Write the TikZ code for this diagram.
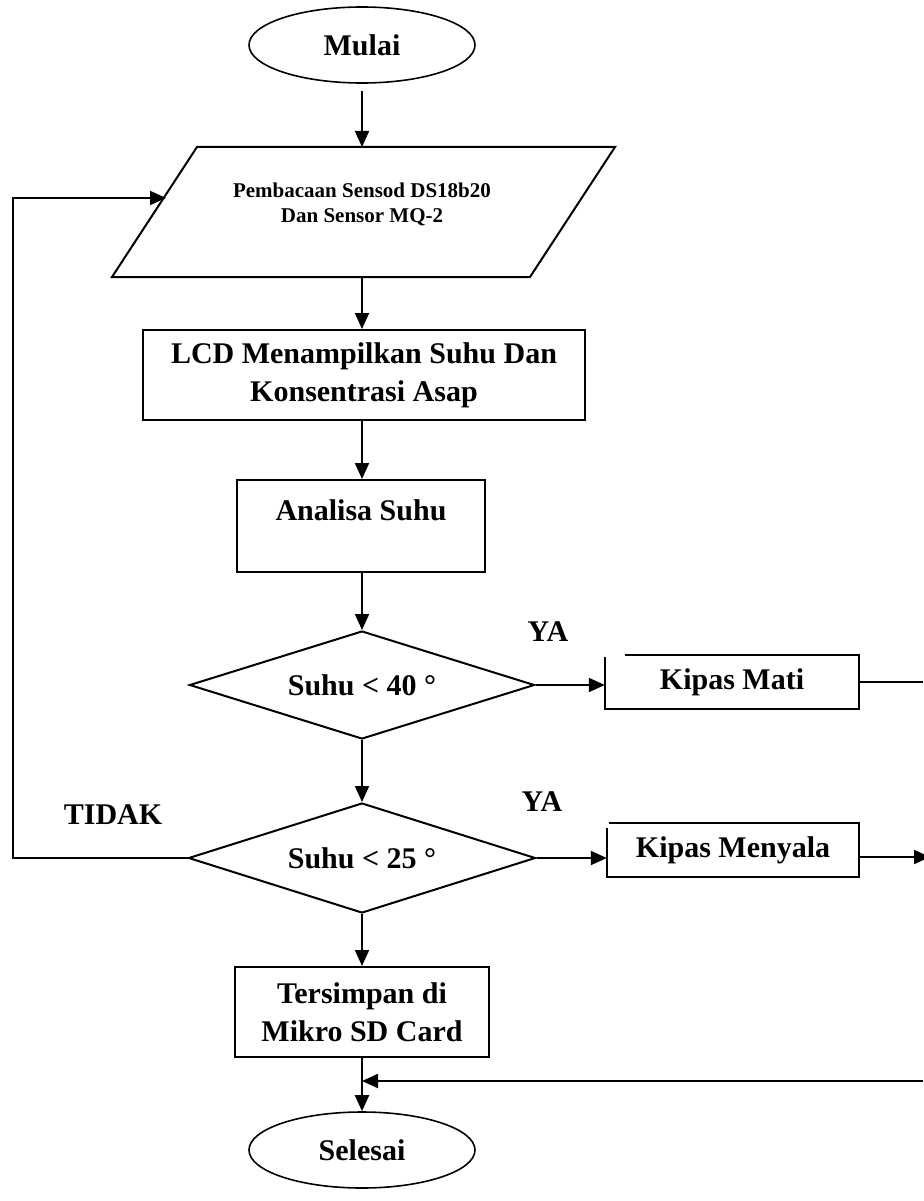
\documentclass[tikz,border=0pt]{standalone}
\usepackage{fontspec}
\setmainfont{Liberation Serif}
\usetikzlibrary{shapes.geometric,arrows.meta,calc}
\begin{document}
\begin{tikzpicture}[x=1pt,y=-1pt,
  every node/.style={font=\bfseries\fontsize{30}{38}\selectfont, inner sep=0pt, align=center},
  ln/.style={line width=2pt},
  arr/.style={ln,-{Triangle[length=16pt,width=14pt]}},
  box/.style={draw, line width=2pt, rectangle},
  term/.style={draw, ellipse, line width=1.6pt, minimum width=226pt, minimum height=76pt},
  dec/.style={draw, diamond, aspect=3.2, line width=2pt},
]
\useasboundingbox (0,0) rectangle (923,1201);

% terminals
\node[term] (start) at (362,45) {Mulai};
\node[term] (end) at (362,1150) {Selesai};

% input parallelogram
\coordinate (ptl) at (197,147);
\coordinate (ptr) at (615,147);
\coordinate (pbr) at (530,277);
\coordinate (pbl) at (112,277);
\draw[ln, line join=miter] (ptl) -- (ptr) -- (pbr) -- (pbl) -- cycle;
\node[font=\bfseries\fontsize{21}{25}\selectfont] (pin) at (362,204) {Pembacaan Sensod DS18b20\\Dan Sensor MQ-2};
\coordinate (ptop) at (362,147);
\coordinate (pbot) at (362,277);
\coordinate (pleft) at (166,198);

% process boxes
\node[box, minimum width=442pt, minimum height=90pt] (lcd) at (364,375) {LCD Menampilkan Suhu Dan\\Konsentrasi Asap};
\node[box, minimum width=248pt, minimum height=92pt] (ana) at (361,526) {};
\node (anatxt) at (361,510) {Analisa Suhu};

% decisions
\node[dec, minimum width=345pt, minimum height=108pt] (d1) at (362,685) {Suhu < 40 °};
\node[dec, minimum width=347pt, minimum height=110pt] (d2) at (362,858) {Suhu < 25 °};

% kipas boxes (open top-left corner)
\node[minimum width=254pt, minimum height=54pt] (km) at (732,682) {Kipas Mati};
\draw[ln] ($(km.north west)+(20,0)$) -- (km.north east) -- (km.south east) -- (km.south west) -- ($(km.north west)+(0,2)$);
\node[minimum width=252pt, minimum height=54pt] (kmy) at (733,850) {Kipas Menyala};
\draw[ln] ($(kmy.north west)+(2,0)$) -- (kmy.north east) -- (kmy.south east) -- (kmy.south west) -- ($(kmy.north west)+(0,5)$);

% storage box
\node[box, minimum width=254pt, minimum height=90pt] (sd) at (362,1012) {Tersimpan di\\Mikro SD Card};

% labels
\node (ya1) at (548,632) {YA};
\node (ya2) at (542,802) {YA};
\node (tidak) at (113,815) {TIDAK};

% connectors
\draw[arr, shorten <=7pt] (start.south) -- (ptop);
\draw[arr] (pbot) -- (pbot |- lcd.north);
\draw[arr] (pbot |- lcd.south) -- (pbot |- ana.north);
\draw[arr] (pbot |- ana.south) -- (pbot |- d1.north);
\draw[arr] (d1.south) -- (d2.north);
\draw[arr] (d2.south) -- (sd.north);
\draw[arr] (sd.south) -- (end.north);
\draw[arr] (d1.east) -- (d1.east -| km.west);
\draw[arr] (d2.east) -- (d2.east -| kmy.west);
\coordinate (rkm) at (923,682);
\draw[ln] (km.east) -- (rkm);
\coordinate (rkmy) at (930,857);
\draw[arr] (kmy.east |- rkmy) -- (rkmy);
\coordinate (rret) at (923,1081);
\coordinate (jn) at (362,1081);
\draw[arr] (rret) -- (jn);
\coordinate (lb) at (13,858);
\coordinate (lt) at (13,198);
\draw[arr, line join=miter] (d2.west) -- (lb) -- (lt) -- (pleft);
\end{tikzpicture}
\end{document}
